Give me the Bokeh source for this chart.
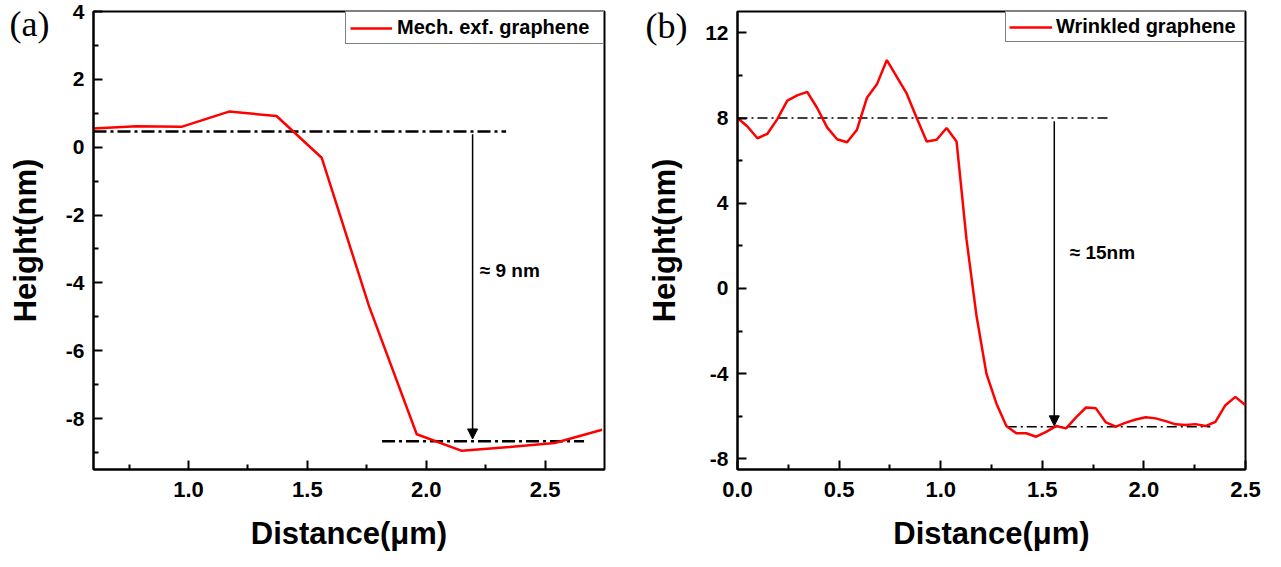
from bokeh.plotting import figure
from bokeh.models import (FixedTicker, Legend, LegendItem, Label, Arrow, NormalHead,
                          LinearAxis)
from bokeh.layouts import row
from bokeh.embed import file_html
from bokeh.resources import INLINE

# ---------------- data: panel (a) ----------------
dist_a = [0.60, 0.78, 0.97, 1.17, 1.37, 1.56, 1.76, 1.96, 2.15, 2.35, 2.54, 2.74]
height_a = [0.55, 0.62, 0.60, 1.05, 0.92, -0.31, -4.70, -8.46, -8.95, -8.84, -8.72, -8.33]
level_a_top_x = [0.60, 2.336]
level_a_top_y = [0.46, 0.46]
level_a_bot_x = [1.814, 2.664]
level_a_bot_y = [-8.67, -8.67]
arrow_a = dict(x=2.195, y_start=0.38, y_end=-8.60)
note_a = dict(x=2.225, y=-3.63, text="≈ 9 nm")
tag_a = dict(y=3.62, text="(a)")
xticks_a = [1.0, 1.5, 2.0, 2.5]
xticklabels_a = ["1.0", "1.5", "2.0", "2.5"]
xminor_a = [0.75, 1.25, 1.75, 2.25]
yticks_a = [-8, -6, -4, -2, 0, 2, 4]
yticklabels_a = ["-8", "-6", "-4", "-2", "0", "2", "4"]
yminor_a = [-9, -7, -5, -3, -1, 1, 3]

# ---------------- data: panel (b) ----------------
dist_b = [0.000, 0.049, 0.098, 0.147, 0.196, 0.245, 0.294, 0.343, 0.392, 0.441,
          0.490, 0.539, 0.588, 0.637, 0.686, 0.735, 0.784, 0.833, 0.882, 0.931,
          0.980, 1.029, 1.078, 1.127, 1.176, 1.225, 1.274, 1.323, 1.372, 1.421,
          1.470, 1.519, 1.568, 1.617, 1.666, 1.715, 1.764, 1.813, 1.862, 1.911,
          1.960, 2.009, 2.058, 2.107, 2.156, 2.205, 2.254, 2.303, 2.352, 2.401,
          2.450, 2.500]
height_b = [8.00, 7.60, 7.05, 7.26, 7.95, 8.82, 9.06, 9.23, 8.47, 7.56,
            7.00, 6.86, 7.45, 8.95, 9.58, 10.72, 9.93, 9.14, 8.00, 6.90,
            6.98, 7.53, 6.90, 2.30, -1.27, -4.00, -5.40, -6.46, -6.80, -6.80,
            -6.96, -6.73, -6.46, -6.57, -6.05, -5.59, -5.63, -6.29, -6.49, -6.30,
            -6.15, -6.05, -6.10, -6.23, -6.38, -6.41, -6.37, -6.46, -6.26, -5.48,
            -5.09, -5.48]
level_b_top_x = [0.0, 1.826]
level_b_top_y = [8.0, 8.0]
level_b_bot_x = [1.325, 2.327]
level_b_bot_y = [-6.49, -6.49]
arrow_b = dict(x=1.559, y_start=7.85, y_end=-6.45)
note_b = dict(x=1.635, y=1.69, text="≈ 15nm")
tag_b = dict(y=12.34, text="(b)")
xticks_b = [0.0, 0.5, 1.0, 1.5, 2.0, 2.5]
xticklabels_b = ["0.0", "0.5", "1.0", "1.5", "2.0", "2.5"]
xminor_b = [0.25, 0.75, 1.25, 1.75, 2.25]
yticks_b = [-8, -4, 0, 4, 8, 12]
yticklabels_b = ["-8", "-4", "0", "4", "8", "12"]
yminor_b = [-6, -2, 2, 6, 10]

FONT = "Liberation Sans"
SERIF = "Liberation Serif"
RED = "#ff0000"


def make_panel(width, height, xr, yr, borders, xt, xtl, xm, yt, ytl, ym):
    left, right, top, bottom = borders
    p = figure(width=width, height=height, x_range=xr, y_range=yr,
               output_backend="svg", toolbar_location=None,
               min_border_left=left, min_border_right=right,
               min_border_top=top, min_border_bottom=bottom)
    p.grid.visible = False
    p.outline_line_color = "black"
    p.outline_line_width = 2
    p.background_fill_color = "white"
    p.border_fill_color = "white"
    p.xaxis.ticker = FixedTicker(ticks=xt, minor_ticks=xm)
    p.yaxis.ticker = FixedTicker(ticks=yt, minor_ticks=ym)
    p.xaxis.major_label_overrides = dict(zip(xt, xtl))
    p.yaxis.major_label_overrides = dict(zip(yt, ytl))
    for ax in (p.xaxis[0], p.yaxis[0]):
        ax.axis_line_width = 2
        ax.axis_line_color = "black"
        ax.major_tick_in = 9
        ax.major_tick_out = 0
        ax.minor_tick_in = 5
        ax.minor_tick_out = 0
        ax.major_tick_line_width = 2
        ax.minor_tick_line_width = 2
        ax.major_label_text_font = FONT
        ax.major_label_text_font_style = "bold"
        ax.major_label_text_color = "black"
        ax.axis_label_text_font = FONT
        ax.axis_label_text_font_style = "bold"
        ax.axis_label_text_font_size = "31px"
        ax.axis_label_text_color = "black"
    p.xaxis.major_label_text_font_size = "22px"
    p.yaxis.major_label_text_font_size = "21px"
    p.xaxis.major_label_standoff = 12
    p.yaxis.major_label_standoff = 9
    p.xaxis.axis_label = "Distance(μm)"
    p.yaxis.axis_label = "Height(nm)"
    p.xaxis.axis_label_standoff = 16
    p.yaxis.axis_label_standoff = 20
    return p


def add_tag(p, tag, standoff):
    ax = LinearAxis(ticker=FixedTicker(ticks=[tag["y"]], minor_ticks=[]),
                    major_label_overrides={tag["y"]: tag["text"]})
    ax.axis_line_color = None
    ax.major_tick_line_color = None
    ax.minor_tick_line_color = None
    ax.major_tick_out = 0
    ax.major_tick_in = 0
    ax.major_label_standoff = standoff
    ax.major_label_text_font = SERIF
    ax.major_label_text_font_size = "36px"
    ax.major_label_text_font_style = "normal"
    ax.major_label_text_color = "black"
    p.add_layout(ax, "left")


def add_legend(p, r, text, pad, gw, standoff, lw):
    leg = Legend(items=[LegendItem(label=text, renderers=[r])], location="top_right")
    leg.margin = 0
    leg.padding = pad
    leg.spacing = 0
    leg.glyph_width = gw
    leg.glyph_height = 20
    leg.label_standoff = standoff
    leg.label_width = lw
    leg.label_text_font = FONT
    leg.label_text_font_style = "bold"
    leg.label_text_font_size = "20px"
    leg.label_text_color = "black"
    leg.border_line_color = "black"
    leg.border_line_width = 1
    leg.background_fill_color = "white"
    leg.background_fill_alpha = 1.0
    p.add_layout(leg)


def add_marks(p, lvl_top, lvl_bot, arrow, note, dash, dash_w):
    p.line(lvl_top[0], lvl_top[1], line_color="black", line_width=dash_w, line_dash=dash)
    p.line(lvl_bot[0], lvl_bot[1], line_color="black", line_width=dash_w, line_dash=dash)
    head = NormalHead(size=10, fill_color="black", line_color="black", line_width=1)
    p.add_layout(Arrow(end=head, x_start=arrow["x"], y_start=arrow["y_start"],
                       x_end=arrow["x"], y_end=arrow["y_end"],
                       line_color="black", line_width=1.5))
    p.add_layout(Label(x=note["x"], y=note["y"], text=note["text"],
                       text_font=FONT, text_font_style="bold", text_font_size="19px",
                       text_baseline="middle", text_align="left", text_color="black"))


# ---------------- panel (a) ----------------
pa = make_panel(640, 567, (0.6, 2.75), (-9.5, 4.0), (93, 36, 11, 93),
                xticks_a, xticklabels_a, xminor_a, yticks_a, yticklabels_a, yminor_a)
add_marks(pa, (level_a_top_x, level_a_top_y), (level_a_bot_x, level_a_bot_y),
          arrow_a, note_a, "13 4 3 4", 2.5)
ra = pa.line(dist_a, height_a, line_color=RED, line_width=2.5)
add_legend(pa, ra, "Mech. exf. graphene", 4, 42, 5, 202)
add_tag(pa, tag_a, -45)

# ---------------- panel (b) ----------------
pb = make_panel(641, 567, (0.0, 2.5), (-8.5, 13.0), (97, 36, 11, 98),
                xticks_b, xticklabels_b, xminor_b, yticks_b, yticklabels_b, yminor_b)
add_marks(pb, (level_b_top_x, level_b_top_y), (level_b_bot_x, level_b_bot_y),
          arrow_b, note_b, "10 4 2 4", 1.6)
rb = pb.line(dist_b, height_b, line_color=RED, line_width=2.5)
add_legend(pb, rb, "Wrinkled graphene", 3, 43, 4, 185)
add_tag(pb, tag_b, -43)

layout = row(pa, pb, spacing=0)
open("out.html", "w").write(file_html(layout, INLINE))
